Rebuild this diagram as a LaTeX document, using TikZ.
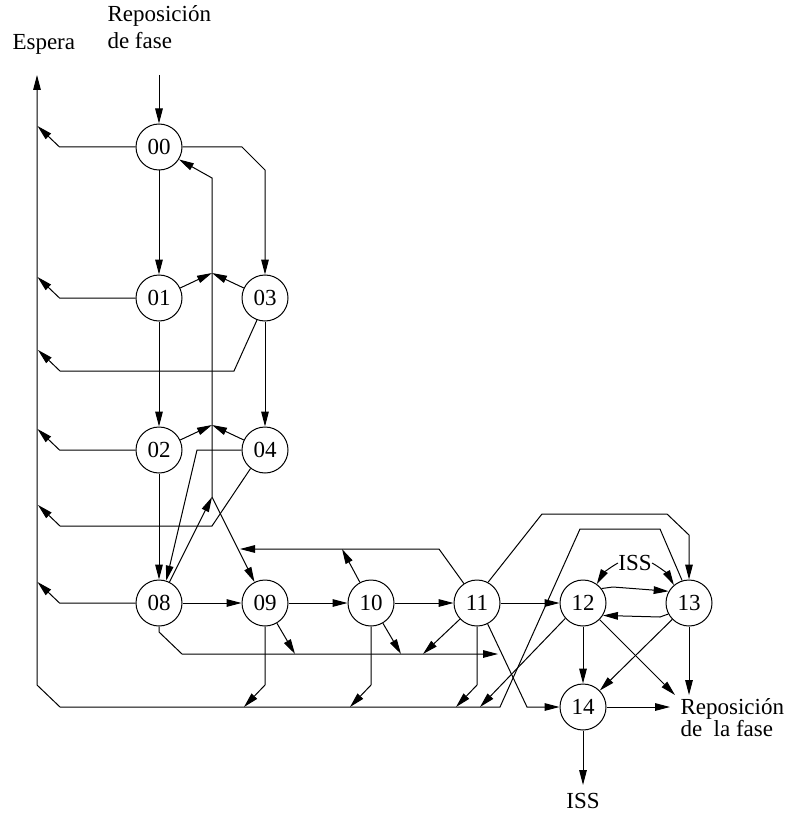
\documentclass[tikz,border=0pt]{standalone}
\usepackage{fontspec}
\setmainfont{Liberation Serif}
\usetikzlibrary{arrows.meta}
\tikzset{
  state/.style={draw,circle,minimum size=23pt,inner sep=0pt},
  lbl/.style={inner sep=0pt},
  arr/.style={-{Triangle[length=7.5pt,width=3.8pt]}},
}
\begin{document}
\begin{tikzpicture}[x=0.5pt,y=-0.5pt,line width=0.5pt,font=\fontsize{11.5}{13.5}\selectfont]
\useasboundingbox (0,0) rectangle (787,818);
\foreach \n/\x/\y in {00/159/147,01/159/298,03/265/298,02/159/450,04/265/450,08/159/603,
  09/265/603,10/371/603,11/477/603,12/583/603,13/689/603,14/583/707}
  \node[state] (n\n) at (\x,\y) {\n};
\node[lbl,anchor=base west] (wait) at (12,50) {Espera};
\node[lbl,anchor=north west,align=left] (phase) at (107,5) {Reposición\\de fase};
\node[lbl,anchor=north west,align=left] (phaseend) at (680,698) {Reposición\\[-2.5pt]de~ la fase};
\node[lbl] (issin) at (635,563) {ISS};
\node[lbl] (issout) at (583,801) {ISS};
\coordinate (phaseT) at (159,75);
\coordinate (waitT) at (37,75);
\coordinate (busT) at (212,178);
\coordinate (busB) at (212,497);
\coordinate (j1) at (212,273);
\coordinate (j2) at (212,425);
\coordinate (issT) at (583,785);
\draw[arr] (phaseT) -- (n00);
\foreach \n in {00,01,02,08}
  \draw[arr] (n\n.west) -- ++(-76,0) -- ++(-22,-21);
\draw[arr] (n03.250) -- (234,371) -- (60,371) -- (38,350);
\draw[arr] (n04.232) -- (212,526) -- (60,526) -- (38,505);
\draw[arr] (n13.107) -- (660,529) -- (580,529) -- (500,707) -- (60,707) -- (37,685) -- (waitT);
\draw[arr] (n00) -- (n01);
\draw[arr] (n01) -- (n02);
\draw[arr] (n02) -- (n08);
\draw[arr] (n03) -- (n04);
\draw[arr] (n00.east) -- (242,147) -- (265,170) -- (n03);
\draw[arr] (busB) -- (busT) -- (n00.-32);
\draw[arr] (busB) -- (n09);
\foreach \n in {01,03}
  \draw[arr] (n\n) -- (j1);
\foreach \n in {02,04}
  \draw[arr] (n\n) -- (j2);
\draw[arr] (n08) -- (busB);
\draw[arr] (n04.west) -- (197,450) -- (n08.72);
\draw[arr] (n08) -- (n09);
\draw[arr] (n09) -- (n10);
\draw[arr] (n10) -- (n11);
\draw[arr] (n11) -- (n12);
\draw[arr] (n11.124) -- (439,549) -- (240,549);
\draw[arr] (n10) -- (342,549);
\draw[arr] (n08.south) -- (159,632) -- (182,654) -- (498,654);
\draw[arr] (n09) -- (295,654);
\draw[arr] (n10) -- (401,654);
\draw[arr] (n11) -- (423,654);
\foreach \n/\x in {09/265,10/371,11/477}
  \draw[arr] (n\n.south) -- (\x,685) -- ++(-21,22);
\draw[arr] (n12.221) -- (480,707);
\draw[arr] (n11.-63) -- (527,707) -- (n14.west);
\draw[arr] (n11.62) -- (542,514) -- (667,514) -- (689,535) -- (n13.north);
\draw[arr] (n12) -- (n14);
\draw[arr] (n13) -- (n14);
\draw[arr] (n12) -- (675,695);
\draw[arr] (n13.south) -- (689,695);
\draw[arr] (n14.east) -- (670,707);
\draw[arr] (n14.south) -- (issT);
\draw[arr] (issin.west) to[bend right=15] (n12.54);
\draw[arr] (issin.east) to[bend left=15] (n13.130);
\draw[arr] (n12.38) -- (613,587) -- (n13.150);
\draw[arr] (n13.208) -- (660,617) -- (n12.-32);
\end{tikzpicture}
\end{document}
